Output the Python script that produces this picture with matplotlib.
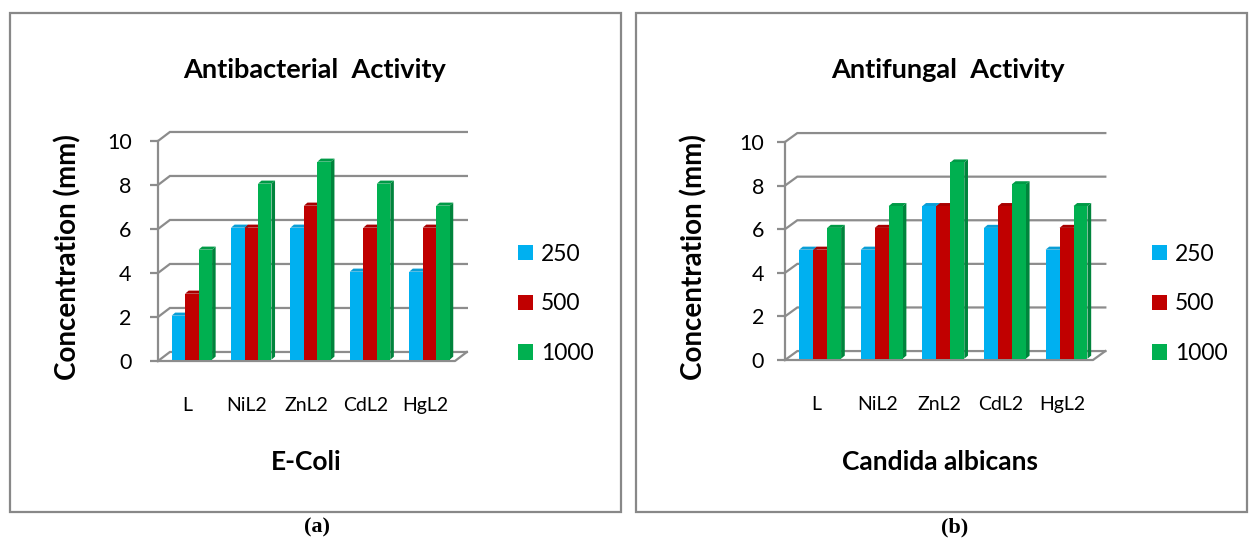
import matplotlib

matplotlib.use("Agg")

import matplotlib.pyplot as plt
from matplotlib.patches import Polygon, Rectangle, Patch

# ---- data -------------------------------------------------------------
categories = ["L", "NiL2", "ZnL2", "CdL2", "HgL2"]
series_names = ["250", "500", "1000"]

ecoli_250 = [2, 6, 6, 4, 4]
ecoli_500 = [3, 6, 7, 6, 6]
ecoli_1000 = [5, 8, 9, 8, 7]

candida_250 = [5, 5, 7, 6, 5]
candida_500 = [5, 6, 7, 7, 6]
candida_1000 = [6, 7, 9, 8, 7]

y_ticks = [0, 2, 4, 6, 8, 10]

# ---- style ------------------------------------------------------------
W, H = 1249, 540
FRONT = ["#00B0F0", "#C00000", "#00B050"]
SIDE = ["#0088BE", "#8A0000", "#00843C"]
TOP = ["#0A9ED6", "#A80000", "#009A46"]
GRID = "#8C8C8C"
FONT = "Lato"

DX, DY = 0.2, 0.41        # floor / wall depth (data units)
SX, SY = 0.06, 0.14       # bar depth
BAR_W = 0.227
BAR_SHIFT = 0.07
BAR_BASE = 0.06

plt.rcParams["font.family"] = FONT
fig = plt.figure(figsize=(W / 100, H / 100), dpi=100)
fig.patch.set_facecolor("white")


def make_axes(x0, y0, ppx, ppy, xlim, ylim):
    """Place axes so that data point (-0.5, 0) lands on pixel (x0, y0)."""
    left = x0 + (xlim[0] + 0.5) * ppx
    right = x0 + (xlim[1] + 0.5) * ppx
    top = y0 - ylim[1] * ppy
    bottom = y0 - ylim[0] * ppy
    ax = fig.add_axes([left / W, 1 - bottom / H, (right - left) / W, (bottom - top) / H])
    ax.set_xlim(*xlim)
    ax.set_ylim(*ylim)
    return ax


def draw_panel(ax, series, tick_pad):
    n = len(categories)
    x_lo, x_hi = -0.5, n - 0.5

    # back wall gridlines + left wall connectors
    for v in y_ticks:
        ax.plot([x_lo, x_lo + DX, x_hi + DX], [v, v + DY, v + DY],
                color=GRID, lw=1.6, solid_joinstyle="miter", zorder=1, clip_on=False)
    # floor front edge and right end
    ax.plot([x_lo, x_hi, x_hi + DX], [0, 0, DY], color=GRID, lw=1.6, zorder=1, clip_on=False)

    # bars (front face via ax.bar, side and top faces as polygons)
    z = 2
    for i in range(n):
        for k, vals in enumerate(series):
            v = vals[i]
            xc = i + BAR_SHIFT + (k - 1) * BAR_W
            xl, xr = xc - BAR_W / 2, xc + BAR_W / 2
            top = BAR_BASE + v
            ax.add_patch(Polygon([[xr, BAR_BASE], [xr + SX, BAR_BASE + SY],
                                  [xr + SX, top + SY], [xr, top]],
                                 closed=True, fc=SIDE[k], ec="none", zorder=z))
            ax.add_patch(Polygon([[xl, top], [xl + SX, top + SY],
                                  [xr + SX, top + SY], [xr, top]],
                                 closed=True, fc=TOP[k], ec="none", zorder=z))
            ax.bar(xc, v, width=BAR_W, bottom=BAR_BASE, color=FRONT[k],
                   linewidth=0, zorder=z + 1)
            z += 2

    # front value axis
    for s in ["top", "right", "bottom"]:
        ax.spines[s].set_visible(False)
    ax.spines["left"].set_bounds(0, 10)
    ax.spines["left"].set_color(GRID)
    ax.spines["left"].set_linewidth(1.6)
    ax.set_yticks(y_ticks)
    ax.set_yticklabels([str(t) for t in y_ticks])
    ax.tick_params(axis="y", direction="out", length=6, width=1.6, color=GRID,
                   labelsize=15.5, pad=tick_pad, labelcolor="black")
    ax.set_xticks(range(n))
    ax.set_xticklabels(categories)
    ax.tick_params(axis="x", length=0, labelsize=14, pad=26, labelcolor="black")
    ax.set_facecolor("none")


def add_legend(ax, x_px, y_px):
    handles = [Patch(facecolor=c, edgecolor="none") for c in FRONT]
    ax.legend(handles, series_names, loc="center left",
              bbox_to_anchor=(x_px / W, 1 - y_px / H), bbox_transform=fig.transFigure,
              frameon=False, fontsize=16.5, handlelength=0.65, handleheight=0.65,
              handletextpad=0.35, labelspacing=1.25, borderpad=0, borderaxespad=0)


def add_texts(title, title_x, xlabel, xlabel_x, ylabel_x):
    fig.text(title_x / W, 1 - 70 / H, title, ha="center", va="center",
             fontsize=19.5, fontweight="bold")
    fig.text(xlabel_x / W, 1 - 462 / H, xlabel, ha="center", va="center",
             fontsize=19, fontweight="bold")
    fig.text(ylabel_x / W, 1 - 257 / H, "Concentration (mm)", ha="center", va="center",
             rotation=90, fontsize=20, fontweight="bold")


# ---- panel (a) --------------------------------------------------------
ax1 = make_axes(158, 361, 59.4, 22.0, (-0.5, 4.75), (0, 10.6))
draw_panel(ax1, [ecoli_250, ecoli_500, ecoli_1000], tick_pad=13)
add_legend(ax1, 518, 304)
add_texts("Antibacterial  Activity", 315, "E-Coli", 306, 68)

# ---- panel (b) --------------------------------------------------------
ax2 = make_axes(785, 360, 61.6, 21.8, (-0.5, 4.75), (0, 10.6))
draw_panel(ax2, [candida_250, candida_500, candida_1000], tick_pad=9)
add_legend(ax2, 1152, 304)
add_texts("Antifungal  Activity", 948, "Candida albicans", 940, 694)

# ---- frames and captions ----------------------------------------------
for x0, x1 in [(10, 621), (636, 1247)]:
    fig.add_artist(Rectangle((x0 / W, 1 - 512 / H), (x1 - x0) / W, (512 - 13) / H,
                             transform=fig.transFigure, fill=False,
                             edgecolor="#888888", linewidth=1.6))
for label, x in [("(a)", 317), ("(b)", 955)]:
    fig.text(x / W, 1 - 527 / H, label, ha="center", va="center", fontsize=16,
             fontweight="bold", family="Liberation Serif")

fig.savefig("out.png", dpi=100, facecolor="white")
